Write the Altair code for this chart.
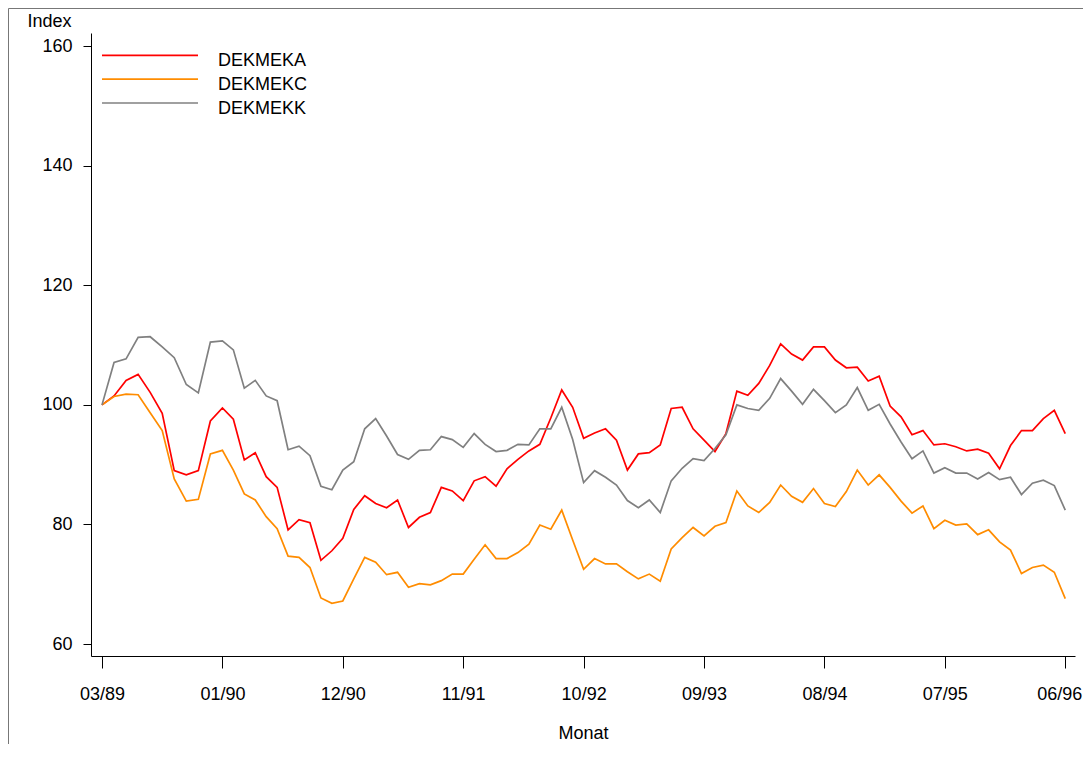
import json
import altair as alt
import pandas as pd

tick_labels = ["03/89", "01/90", "12/90", "11/91", "10/92", "09/93", "08/94", "07/95", "06/96"]
y_ticks = [60, 80, 100, 120, 140, 160]
series_names = ["DEKMEKA", "DEKMEKC", "DEKMEKK"]
series_colors = ["#ff0000", "#ff8c00", "#808080"]

dekmeka = [100.0, 101.5, 104.1, 105.1, 102.1, 98.6, 89.0, 88.3, 89.0, 97.3,
           99.5, 97.6, 90.8, 92.0, 88.0, 86.2, 79.1, 80.8, 80.3, 74.0,
           75.6, 77.7, 82.5, 84.8, 83.5, 82.8, 84.1, 79.5, 81.2, 82.0,
           86.2, 85.6, 84.0, 87.3, 88.0, 86.4, 89.3, 90.9, 92.3, 93.4,
           97.8, 102.5, 99.6, 94.4, 95.3, 96.0, 94.1, 89.1, 91.8, 92.0,
           93.3, 99.4, 99.6, 96.0, 94.1, 92.2, 95.2, 102.3, 101.6, 103.6,
           106.6, 110.2, 108.5, 107.5, 109.7, 109.7, 107.5, 106.2, 106.3, 104.0,
           104.8, 99.8, 98.0, 95.0, 95.7, 93.3, 93.5, 93.0, 92.3, 92.6,
           91.9, 89.3, 93.2, 95.7, 95.7, 97.7, 99.1, 95.2]

dekmekc = [100.0, 101.4, 101.8, 101.7, 98.7, 95.7, 87.6, 83.9, 84.2, 91.8,
           92.4, 89.1, 85.1, 84.1, 81.3, 79.3, 74.7, 74.5, 72.8, 67.7,
           66.8, 67.2, 70.9, 74.5, 73.7, 71.6, 72.0, 69.5, 70.1, 69.9,
           70.6, 71.7, 71.7, 74.2, 76.6, 74.3, 74.3, 75.3, 76.7, 79.9,
           79.2, 82.4, 77.4, 72.5, 74.3, 73.4, 73.4, 72.1, 70.9, 71.7,
           70.5, 75.9, 77.8, 79.5, 78.1, 79.7, 80.3, 85.6, 83.1, 82.0,
           83.7, 86.6, 84.7, 83.7, 86.0, 83.5, 83.0, 85.5, 89.1, 86.6,
           88.3, 86.2, 83.9, 81.9, 83.1, 79.3, 80.7, 79.9, 80.1, 78.3,
           79.1, 77.1, 75.7, 71.8, 72.8, 73.2, 72.0, 67.6]

dekmekk = [100.0, 107.1, 107.7, 111.3, 111.4, 109.7, 107.9, 103.4, 102.0, 110.5,
           110.7, 109.2, 102.8, 104.1, 101.5, 100.7, 92.5, 93.1, 91.5, 86.4,
           85.8, 89.1, 90.5, 96.0, 97.7, 94.8, 91.7, 90.9, 92.4, 92.5,
           94.7, 94.2, 92.9, 95.2, 93.4, 92.2, 92.4, 93.4, 93.3, 96.0,
           96.0, 99.6, 94.2, 87.0, 89.0, 87.9, 86.6, 84.0, 82.8, 84.1,
           82.0, 87.3, 89.4, 91.0, 90.7, 92.7, 95.0, 100.0, 99.4, 99.1,
           101.1, 104.4, 102.3, 100.1, 102.6, 100.7, 98.7, 100.0, 102.9, 99.1,
           100.1, 96.8, 93.8, 91.0, 92.3, 88.6, 89.5, 88.6, 88.6, 87.6,
           88.7, 87.5, 87.9, 85.0, 86.9, 87.4, 86.5, 82.4]


def tick_pos(i):
    # first labelled interval holds 10 months, the later ones 11
    return i / 10 if i <= 10 else (i + 1) / 11


rows = []
for name, vals in zip(series_names, [dekmeka, dekmekc, dekmekk]):
    for i, v in enumerate(vals):
        rows.append({"series": name, "t": tick_pos(i), "value": v, "idx": i})
df = pd.DataFrame(rows)
legend_df = pd.DataFrame({"series": series_names, "row": [0, 1, 2]})

FONT = "Liberation Sans"
FS = 18
W, H = 984, 623
last_tick = len(tick_labels) - 1
color_scale = alt.Scale(domain=series_names, range=series_colors)

x_axis = alt.Axis(
    values=list(range(len(tick_labels))),
    labelExpr=json.dumps(tick_labels) + "[datum.value]",
    labelOffset={"condition": {"test": f"datum.value == {last_tick}", "value": -6}, "value": 0},
    title="Monat", grid=False, tickSize=12, labelPadding=17,
    titleY=77, titleBaseline="middle", titlePadding=0,
    labelFont=FONT, labelFontSize=FS, titleFont=FONT, titleFontSize=FS,
    titleFontWeight="normal", labelColor="black", titleColor="black",
    domainColor="black", tickColor="black", labelFlush=False,
)
y_axis = alt.Axis(
    values=y_ticks, title="Index", grid=False, tickSize=8, labelPadding=11,
    titleAngle=0, titleX=-42, titleY=-12, titleAlign="center", titleBaseline="middle",
    labelFont=FONT, labelFontSize=FS, titleFont=FONT, titleFontSize=FS,
    titleFontWeight="normal", labelColor="black", titleColor="black",
    domainColor="black", tickColor="black",
)

lines = alt.Chart(df).mark_line(strokeWidth=1.7).encode(
    x=alt.X("t:Q", scale=alt.Scale(domain=[-0.0914, 8.081], nice=False, zero=False), axis=x_axis),
    y=alt.Y("value:Q", scale=alt.Scale(domain=[58.0, 162.2], nice=False, zero=False), axis=y_axis),
    color=alt.Color("series:N", scale=color_scale, legend=None),
    order="idx:Q",
)

leg_y = alt.Y("row:Q", scale=alt.Scale(domain=[0, 2], range=[22.3, 70]), axis=None)
leg_lines = alt.Chart(legend_df).mark_rule(strokeWidth=1.7).encode(
    x=alt.value(11), x2=alt.value(107), y=leg_y,
    color=alt.Color("series:N", scale=color_scale, legend=None),
)
leg_text = alt.Chart(legend_df).mark_text(
    align="left", baseline="alphabetic", dy=10.5, font=FONT, fontSize=FS, color="black"
).encode(x=alt.value(127), y=leg_y, text="series:N")

frame_df = pd.DataFrame({"k": [0]})
frame_left = alt.Chart(frame_df).mark_rule(color="#777777", strokeWidth=1).encode(
    x=alt.value(-82.5), y=alt.value(-24.5), y2=alt.value(H + 120)
)
frame_top = alt.Chart(frame_df).mark_rule(color="#777777", strokeWidth=1).encode(
    x=alt.value(-82.5), x2=alt.value(W + 20), y=alt.value(-24.5)
)

chart = alt.layer(lines, leg_lines, leg_text, frame_left, frame_top).resolve_scale(
    y="independent"
).properties(
    width=W, height=H,
    autosize=alt.AutoSizeParams(type="none"),
    padding={"left": 83, "top": 25, "right": 8, "bottom": 88},
    background="white",
).configure_view(stroke=None)

chart.save("out.html", embed_options={"renderer": "svg", "actions": False})
